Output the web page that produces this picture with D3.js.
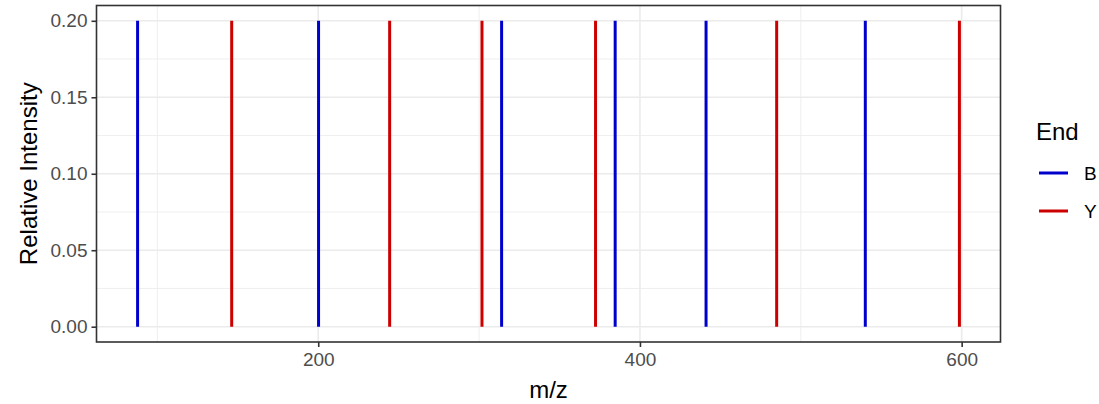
<!DOCTYPE html>
<html>
<head>
<meta charset="utf-8">
<script src="https://cdn.jsdelivr.net/npm/d3@7"></script>
<style>
  body { margin: 0; background: #fff; }
  text { font-family: "Liberation Sans", Arial, sans-serif; }
</style>
</head>
<body>
<div id="root"></div>
<script>
// fragment ions, m/z
const bMz = [87.7, 200.2, 314.0, 384.6, 441.1, 540.1];
const bIntensity = [0.2, 0.2, 0.2, 0.2, 0.2, 0.2];
const yMz = [146.2, 244.4, 301.8, 372.4, 485.0, 598.6];
const yIntensity = [0.2, 0.2, 0.2, 0.2, 0.2, 0.2];
const endNames = ['B', 'Y'];
const endColors = ['#0000CD', '#CD0000'];
const xTicks = [200, 400, 600];
const xMinor = [100, 300, 500];
const yTicks = [0, 0.05, 0.1, 0.15, 0.2];
const yMinor = [0.025, 0.075, 0.125, 0.175];

const width = 1099;
const height = 404;
const panel = { left: 96.5, right: 1000.5, top: 5.5, bottom: 342 };

const peaks = [
  ...bMz.map((mz, i) => ({ mz, value: bIntensity[i], end: 'B' })),
  ...yMz.map((mz, i) => ({ mz, value: yIntensity[i], end: 'Y' })),
];

const color = d3.scaleOrdinal().domain(endNames).range(endColors);

const [mzMin, mzMax] = d3.extent(peaks, (d) => d.mz);
const padX = (mzMax - mzMin) * 0.05;
const x = d3.scaleLinear()
  .domain([mzMin - padX, mzMax + padX])
  .range([panel.left, panel.right]);

const yMax = d3.max(peaks, (d) => d.value);
const y = d3.scaleLinear()
  .domain([-yMax * 0.05, yMax * 1.05])
  .range([panel.bottom, panel.top]);

const svg = d3.select('#root')
  .append('svg')
  .attr('width', width)
  .attr('height', height);

// grid
const grid = svg.append('g');
grid.selectAll('.xminor').data(xMinor).enter().append('line')
  .attr('x1', (d) => x(d)).attr('x2', (d) => x(d))
  .attr('y1', panel.top).attr('y2', panel.bottom)
  .style('stroke', '#ebebeb').style('stroke-width', '0.8px');
grid.selectAll('.yminor').data(yMinor).enter().append('line')
  .attr('x1', panel.left).attr('x2', panel.right)
  .attr('y1', (d) => y(d)).attr('y2', (d) => y(d))
  .style('stroke', '#ebebeb').style('stroke-width', '0.8px');
grid.selectAll('.xmajor').data(xTicks).enter().append('line')
  .attr('x1', (d) => x(d)).attr('x2', (d) => x(d))
  .attr('y1', panel.top).attr('y2', panel.bottom)
  .style('stroke', '#ebebeb').style('stroke-width', '1.6px');
grid.selectAll('.ymajor').data(yTicks).enter().append('line')
  .attr('x1', panel.left).attr('x2', panel.right)
  .attr('y1', (d) => y(d)).attr('y2', (d) => y(d))
  .style('stroke', '#ebebeb').style('stroke-width', '1.6px');

// peaks
svg.selectAll('.peak').data(peaks).enter().append('line')
  .attr('x1', (d) => x(d.mz)).attr('x2', (d) => x(d.mz))
  .attr('y1', y(0)).attr('y2', (d) => y(d.value))
  .style('stroke', (d) => color(d.end))
  .style('stroke-width', '3px');

// panel border
svg.append('rect')
  .attr('x', panel.left).attr('y', panel.top)
  .attr('width', panel.right - panel.left)
  .attr('height', panel.bottom - panel.top)
  .style('fill', 'none').style('stroke', '#333').style('stroke-width', '1.6px');

// axes
const xAxis = svg.append('g')
  .attr('transform', `translate(0,${ panel.bottom })`)
  .call(d3.axisBottom(x).tickValues(xTicks).tickSize(5).tickPadding(6).tickFormat(d3.format('d')));
const yAxis = svg.append('g')
  .attr('transform', `translate(${ panel.left },0)`)
  .call(d3.axisLeft(y).tickValues(yTicks).tickSize(5).tickPadding(4).tickFormat(d3.format('.2f')));

[xAxis, yAxis].forEach((ax) => {
  ax.select('.domain').remove();
  ax.selectAll('.tick line').style('stroke', '#333').style('stroke-width', '1.6px');
  ax.selectAll('.tick text')
    .style('fill', '#4d4d4d')
    .style('font-size', '19px')
    .style('font-family', '"Liberation Sans", Arial, sans-serif');
});

svg.append('text')
  .attr('x', (panel.left + panel.right) / 2)
  .attr('y', 398)
  .attr('text-anchor', 'middle')
  .style('font-size', '24px')
  .style('fill', '#000')
  .text('m/z');

svg.append('text')
  .attr('transform', `translate(37,${ (panel.top + panel.bottom) / 2 }) rotate(-90)`)
  .attr('text-anchor', 'middle')
  .style('font-size', '24px')
  .style('fill', '#000')
  .text('Relative Intensity');

// legend
const legend = svg.append('g').attr('transform', 'translate(1036,0)');
legend.append('text')
  .attr('x', 0).attr('y', 140)
  .style('font-size', '24px')
  .text('End');
const item = legend.selectAll('.item').data(endNames).enter().append('g')
  .attr('transform', (_d, i) => `translate(0,${ 173 + i * 38 })`);
item.append('line')
  .attr('x1', 3).attr('x2', 32).attr('y1', 0).attr('y2', 0)
  .style('stroke', (d) => color(d)).style('stroke-width', '3px');
item.append('text')
  .attr('x', 48).attr('y', 7)
  .style('font-size', '19px')
  .style('fill', '#000')
  .text((d) => d);
</script>
</body>
</html>
